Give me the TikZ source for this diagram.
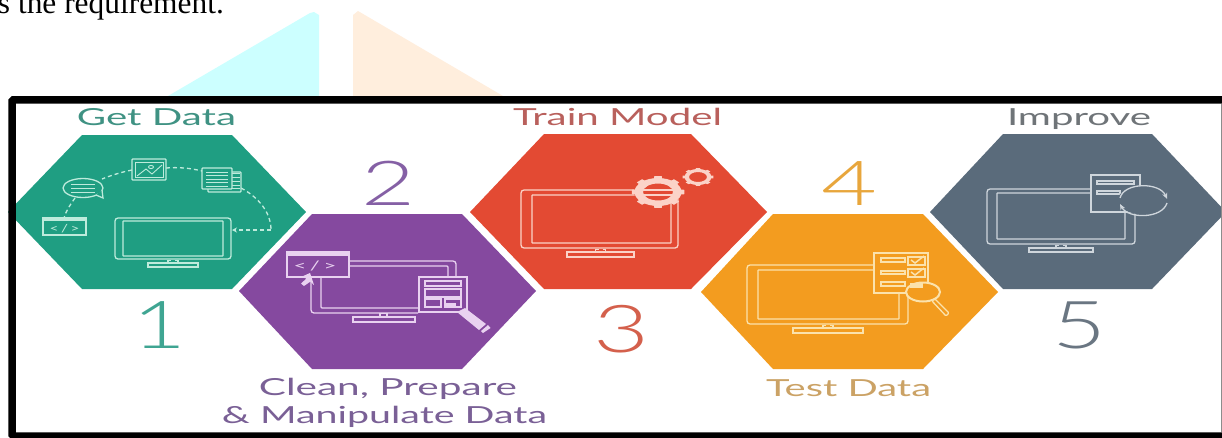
\documentclass[tikz,border=0pt]{standalone}
\usepackage{fontspec}
\usepackage{graphicx}
\usetikzlibrary{arrows.meta}
\setmainfont{Lato}
\newfontfamily\serifpart{Liberation Serif}
\newfontfamily\numpart{Lato Light}
\definecolor{hexA}{HTML}{1F9E82}
\definecolor{hexB}{HTML}{85499F}
\definecolor{hexC}{HTML}{E34A33}
\definecolor{hexD}{HTML}{F39C1F}
\definecolor{hexE}{HTML}{5A6B7B}
\definecolor{lineA}{HTML}{BEEBDC}
\definecolor{lineB}{HTML}{E9D2F0}
\definecolor{lineC}{HTML}{FBD3C8}
\definecolor{lineD}{HTML}{FBE2AC}
\definecolor{lineE}{HTML}{CFD6DC}
\definecolor{textA}{HTML}{3F9283}
\definecolor{textB}{HTML}{7A6096}
\definecolor{textC}{HTML}{B9605C}
\definecolor{textD}{HTML}{CBA265}
\definecolor{textE}{HTML}{6F7478}
\definecolor{numA}{HTML}{3FA592}
\definecolor{numB}{HTML}{8560A5}
\definecolor{numC}{HTML}{D4604C}
\definecolor{numD}{HTML}{E8A63C}
\definecolor{numE}{HTML}{6A7682}
\definecolor{wmA}{HTML}{CCFFFF}
\definecolor{wmB}{HTML}{FFEEDD}
\tikzset{
  lab/.style={anchor=base,inner sep=0pt,outer sep=0pt},
  thinline/.style={line width=1.3pt,rounded corners=0.8pt},
  dash1/.style={line width=1.3pt,dash pattern=on 4pt off 3pt},
}
\newcommand{\wlabel}[6]{\node[lab,text=#5] (#1) at (#2,#3) {\resizebox{#4pt}{\height}{\fontsize{23.5pt}{24pt}\selectfont #6}};}
\newcommand{\wnum}[7]{\node[lab,text=#5] (#1) at (#2,#3) {\resizebox{#4pt}{\height}{\fontsize{#7pt}{62pt}\numpart #6}};}
\newcommand{\monshape}[8]{%
  \draw[line width=1.3pt,rounded corners=3pt] (#1,#2) rectangle (#3,#4);
  \draw[line width=1.3pt,rounded corners=0.5pt] (#5,#6) rectangle (#7,#8);}
\newcommand{\standshape}[4]{%
  \draw[line width=1.3pt] (#1,#3) rectangle (#2,#4);
  \draw[line width=1.3pt] ({(#1+#2)/2-5},#3) -- ++(0,-2.5) -- ++(3,0) ++(4,0) -- ++(3,0) -- ++(0,2.5);}
\begin{document}
\begin{tikzpicture}[x=1pt,y=-1pt]
\useasboundingbox (0,0) rectangle (1222,437);
\clip (0,0) rectangle (1222,437);
\fill[white] (0,0) rectangle (1222,437);
% watermark
\fill[wmA] (168,96) -- (310,13) -- (314,12) -- (319,15) -- (319,96) -- cycle;
\fill[wmB] (353,96) -- (353,15) -- (358,11) -- (503,96) -- cycle;
% running text
\node[lab,anchor=base west] (runin) at (-2,13) {\fontsize{31.4pt}{32pt}\serifpart s the requirement.};
% hexagons
\fill[hexA] (82,135) -- (232,135) -- (306,212) -- (232,289) -- (82,289) -- (8,212) -- cycle;
\fill[hexB] (312,214) -- (462,214) -- (536,291) -- (462,369) -- (312,369) -- (239,291) -- cycle;
\fill[hexC] (544,134) -- (691,134) -- (767,212) -- (691,289) -- (544,289) -- (470,212) -- cycle;
\fill[hexD] (773,214) -- (923,214) -- (998,292) -- (923,369) -- (773,369) -- (701,292) -- cycle;
\fill[hexE] (1003,134) -- (1152,134) -- (1226,212) -- (1152,289) -- (1003,289) -- (930,212) -- cycle;
% labels
\wlabel{getdata}{156.5}{125}{159}{textA}{Get Data}
\wlabel{train}{617.5}{125}{209}{textC}{Train Model}
\wlabel{improve}{1079}{125}{144}{textE}{Improve}
\wlabel{clean}{388}{395}{258}{textB}{Clean, Prepare}
\wlabel{manip}{384.5}{423}{325}{textB}{\& Manipulate Data}
\wlabel{testd}{848.5}{396}{165}{textD}{Test Data}
% numbers
\wnum{numone}{159}{348}{54}{numA}{1}{66}
\wnum{numtwo}{388}{205}{54}{numB}{2}{62}
\wnum{numthree}{621}{352}{56}{numC}{3}{66}
\wnum{numfour}{849}{205}{56}{numD}{4}{62}
\wnum{numfive}{1079}{348}{54}{numE}{5}{66}
% icon 1
\begin{scope}[color=lineA]
\monshape{115}{218}{231}{259}{123}{221}{223}{256}
\standshape{148}{198}{263}{267}
\draw[dash1] (241,188) .. controls (258,197) and (271,212) .. (271,230);
\draw[dash1,-{Stealth[length=5pt,width=5pt]}] (271,230) -- (232,230);
\draw[thinline,fill=hexA] (208,172) rectangle (241,192);
\foreach \yy in {173,177,181,185,188} \draw[line width=.9pt] (232,\yy) -- (240,\yy);
\draw[thinline,fill=hexA] (202,168) rectangle (232,189);
\foreach \yy in {172,175.5,179,182.5,186} \draw[line width=1pt] (206,\yy) -- (228,\yy);
\draw[thinline] (132,159) rectangle (166,180);
\draw[line width=.9pt] (135,162) rectangle (163,177);
\draw[line width=.9pt] (137,176) -- (146,169) -- (152,174) -- (162,165);
\draw[line width=.9pt] (151,167) circle[x radius=2.5,y radius=1.6];
\draw[dash1] (166,168) .. controls (178,167) and (190,168) .. (202,171);
\draw[dash1] (132,170) .. controls (122,172) and (112,175) .. (102,179);
\draw[line width=1.3pt] (83,188) circle[x radius=20,y radius=9.5];
\draw[line width=1.3pt,fill=hexA] (96,195) -- (103,198) -- (102,190);
\fill[hexA] (83,188) circle[x radius=18,y radius=8];
\foreach \yy in {184,188,192} \draw[line width=1pt] (71,\yy) -- (95,\yy);
\draw[dash1] (75,198) .. controls (70,205) and (66,211) .. (64,218);
\draw[line width=1.3pt] (43,218) rectangle (86,235);
\fill[lineA] (43,218) rectangle (86,221);
\node[lab,text=lineA] (codeA) at (64.5,232) {\resizebox{30pt}{\height}{\fontsize{11pt}{12pt}\selectfont <\,/\,>}};
\end{scope}
% icon 2
\begin{scope}[color=lineB]
\draw[thinline,rounded corners=3pt] (350,261) -- (456,261) -- (456,277);
\draw[thinline,rounded corners=1pt] (350,266) -- (448,266) -- (448,277);
\draw[thinline,rounded corners=3pt] (311,278) -- (311,313) -- (418,313);
\draw[thinline,rounded corners=1pt] (321,278) -- (321,308) -- (418,308);
\draw[line width=1.3pt] (287,252) rectangle (349,277);
\fill[lineB] (287,252) rectangle (349,256);
\node[lab,text=lineB] (codeB) at (315,270) {\resizebox{43pt}{\height}{\fontsize{13pt}{14pt}\selectfont <\,/\,>}};
\draw[line width=1.3pt] (419,277) rectangle (467,312);
\draw[line width=1.3pt] (425,281) rectangle (461,286);
\draw[line width=1.3pt] (425,289) rectangle (461,297);
\draw[line width=1.3pt] (425,299) rectangle (441,307);
\draw[line width=1.3pt] (445,299) rectangle (461,307);
\fill[lineB] (445,303) rectangle (456,307);
\fill[lineB] (310,273) -- (314,285) -- (310.5,281.5) -- (304,286) -- (301,283.5) -- (306.5,278.5) -- (301,277) -- cycle;
\draw[line width=1.3pt] (353,317) rectangle (415,322);
\draw[line width=1.3pt] (380,317) -- (380,313.5) -- (387,313.5) -- (387,317);
\fill[lineB] (457,312) -- (465,308) -- (486,324) -- (479,330) -- cycle;
\fill[lineB] (481,331) -- (488,325) -- (490.5,328) -- (483,333) -- cycle;
\end{scope}
% icon 3
\begin{scope}[color=lineC]
\monshape{521}{190}{678}{248}{532}{195}{671}{243}
\standshape{567}{634}{252}{257}
\fill[hexC] (658,192) circle[x radius=24,y radius=14];
\fill[lineC,even odd rule]
  (658,192) circle[x radius=23.5,y radius=14] (658,192) circle[x radius=15,y radius=8.5];
\foreach \aa in {0,45,...,315}
  \fill[lineC,shift={(658,192)}] ({\aa-11}:22 and 13) -- ({\aa-8}:26.5 and 16) -- ({\aa+8}:26.5 and 16) -- ({\aa+11}:22 and 13) -- cycle;
\draw[line width=1.3pt] (643,190) -- (673,190);
\draw[line width=1.3pt] (643,195) -- (672,195);
\fill[lineC,even odd rule]
  (698,177) circle[x radius=13.5,y radius=8] (698,177) circle[x radius=9,y radius=5];
\foreach \aa in {0,45,...,315}
  \fill[lineC,shift={(698,177)}] ({\aa-11}:12.5 and 7.5) -- ({\aa-8}:15.5 and 9) -- ({\aa+8}:15.5 and 9) -- ({\aa+11}:12.5 and 7.5) -- cycle;
\end{scope}
% icon 4
\begin{scope}[color=lineD]
\monshape{747}{265}{908}{324}{758}{270}{899}{319}
\standshape{793}{863}{328}{333}
\draw[line width=1.3pt,fill=hexD] (874,253) rectangle (928,293);
\draw[line width=1.3pt] (881,258) rectangle (905,262);
\draw[line width=1.3pt] (881,271) rectangle (905,274);
\draw[line width=1.3pt] (881,282) rectangle (905,286);
\draw[line width=1.3pt] (908,257) rectangle (925,265);
\draw[line width=1.3pt] (908,269) rectangle (925,277);
\draw[line width=1.5pt] (911,260) -- (915,263) -- (924,256);
\draw[line width=1.5pt] (911,272) -- (915,275) -- (924,268);
\draw[line width=2pt,fill=hexD] (923,292) circle[x radius=17,y radius=9.5];
\fill[lineD] (910,283) rectangle (923,288);
\draw[line width=1.3pt,fill=hexD,rounded corners=1pt] (932,301) -- (935,299) -- (949,313) -- (946,316) -- cycle;
\end{scope}
% icon 5
\begin{scope}[color=lineE]
\monshape{987}{189}{1135}{244}{997}{193}{1125}{239}
\standshape{1029}{1093}{248}{252}
\draw[line width=1.3pt,fill=hexE] (1091,175) rectangle (1140,212);
\draw[line width=1.3pt] (1097,181) rectangle (1134,184);
\draw[line width=1.3pt] (1097,191) rectangle (1120,194);
\fill[hexE] (1143,200) circle[x radius=25,y radius=14.5];
\draw[line width=1.3pt,-{Stealth[length=6pt,width=5pt]}] (1120,198) .. controls (1124,182) and (1160,182) .. (1167,199);
\draw[line width=1.3pt,-{Stealth[length=6pt,width=5pt]}] (1167,203) .. controls (1162,219) and (1128,219) .. (1120,204);
\end{scope}
% frame
\draw[black,line width=7.5pt,rounded corners=1.5pt] (12,99.75) rectangle (1240,436);
\fill[white!55!black] (1220.8,103.5) rectangle (1222,432.25);
\end{tikzpicture}
\end{document}
